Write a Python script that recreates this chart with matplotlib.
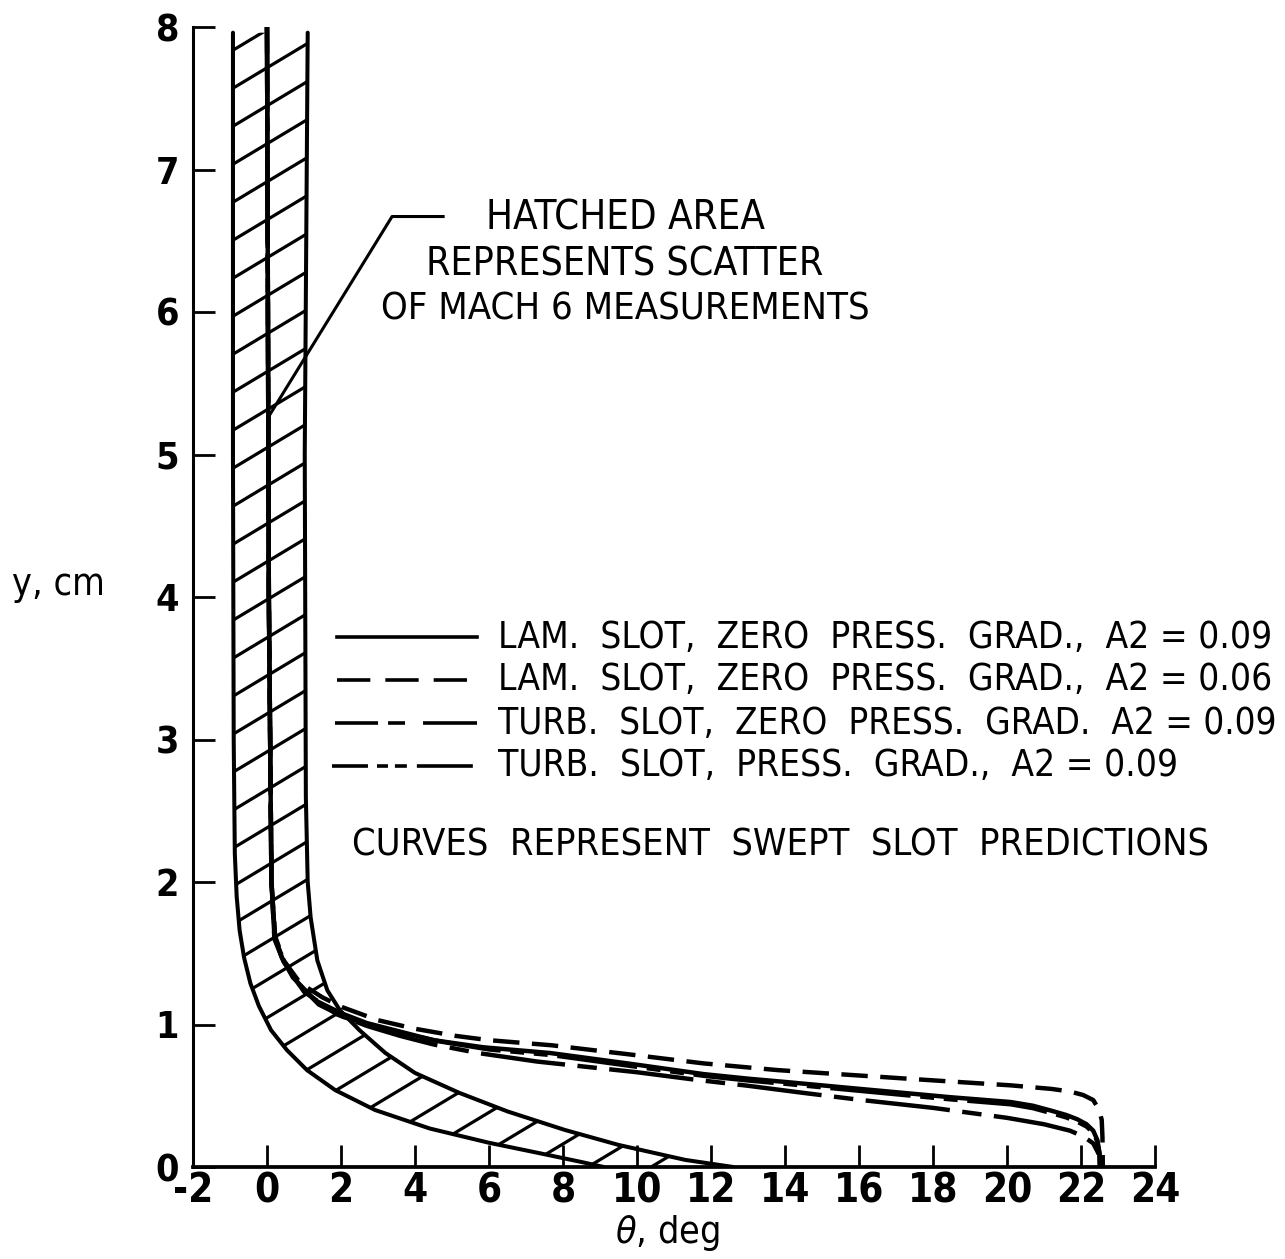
import numpy as np
import matplotlib
matplotlib.use("Agg")
import matplotlib.pyplot as plt
from matplotlib import font_manager as fm
from matplotlib.lines import Line2D
from matplotlib.patches import Polygon

# ── data ────────────────────────────────────────────────────────────────
# hatched scatter band of the Mach 6 measurements (left / right edge)
band_left_theta  = [-0.92, -0.92, -0.90, -0.87, -0.82, -0.74, -0.62, -0.45, -0.22, 0.11, 0.54, 1.08, 1.84, 2.92, 4.4, 6.0, 7.4, 8.5, 9.1]
band_left_y      = [7.96, 5.0, 3.0, 2.2, 1.9, 1.66, 1.47, 1.29, 1.13, 0.96, 0.82, 0.68, 0.54, 0.40, 0.27, 0.17, 0.095, 0.035, 0.0]
band_right_theta = [1.10, 1.02, 1.05, 1.10, 1.18, 1.36, 1.63, 1.97, 2.5, 3.2, 4.0, 5.2, 6.5, 8.05, 9.5, 11.3, 12.6]
band_right_y     = [7.96, 5.0, 2.6, 2.0, 1.75, 1.45, 1.24, 1.10, 0.96, 0.80, 0.66, 0.52, 0.39, 0.26, 0.155, 0.05, 0.0]

# swept slot predictions
theta_lam09 = [0.0, 0.05, 0.12, 0.2, 0.4, 0.7, 1.3, 2.0, 2.7, 3.6, 4.5, 5.85, 7.65, 9.8, 11.8, 13.0, 14.0, 15.95, 18.46, 20.1, 20.7, 21.2, 21.6, 21.9, 22.15, 22.33, 22.44, 22.50, 22.51]
y_lam09     = [8.0, 4.0, 2.0, 1.62, 1.47, 1.33, 1.17, 1.08, 1.01, 0.95, 0.89, 0.84, 0.80, 0.725, 0.652, 0.62, 0.597, 0.55, 0.49, 0.456, 0.43, 0.395, 0.365, 0.335, 0.30, 0.255, 0.19, 0.10, 0.0]

theta_lam06 = [0.0, 0.05, 0.12, 0.22, 0.45, 0.9, 1.5, 2.05, 3.0, 4.0, 5.1, 6.0, 7.7, 9.8, 11.8, 13.8, 15.95, 18.0, 20.1, 21.2, 21.7, 22.06, 22.33, 22.49, 22.56, 22.58, 22.59]
y_lam06     = [8.0, 4.0, 2.0, 1.62, 1.45, 1.29, 1.19, 1.12, 1.03, 0.97, 0.92, 0.89, 0.854, 0.79, 0.727, 0.68, 0.643, 0.608, 0.573, 0.548, 0.53, 0.505, 0.47, 0.40, 0.33, 0.21, 0.0]

theta_turb0 = [0.0, 0.05, 0.12, 0.2, 0.45, 1.0, 1.9, 2.7, 3.6, 4.5, 5.7, 7.3, 10.0, 11.5, 13.0, 14.5, 16.0, 18.0, 20.0, 21.0, 21.7, 22.06, 22.33, 22.47, 22.51]
y_turb0     = [8.0, 4.0, 2.0, 1.6, 1.44, 1.23, 1.07, 0.99, 0.92, 0.86, 0.80, 0.74, 0.665, 0.615, 0.57, 0.52, 0.472, 0.415, 0.345, 0.30, 0.255, 0.215, 0.166, 0.096, 0.0]

theta_turbp = [0.0, 0.05, 0.12, 0.22, 0.45, 0.8, 1.4, 2.1, 2.9, 3.8, 4.7, 6.0, 7.7, 9.8, 11.8, 13.0, 14.0, 16.0, 18.46, 20.1, 20.7, 21.2, 21.6, 21.9, 22.15, 22.33, 22.44, 22.50, 22.51]
y_turbp     = [8.0, 4.0, 2.0, 1.6, 1.45, 1.30, 1.14, 1.05, 0.99, 0.93, 0.88, 0.825, 0.785, 0.71, 0.64, 0.607, 0.584, 0.535, 0.475, 0.44, 0.413, 0.378, 0.348, 0.318, 0.284, 0.24, 0.18, 0.09, 0.0]

legend_labels = [
    "LAM.  SLOT,  ZERO  PRESS.  GRAD.,  A2 = 0.09",
    "LAM.  SLOT,  ZERO  PRESS.  GRAD.,  A2 = 0.06",
    "TURB.  SLOT,  ZERO  PRESS.  GRAD.  A2 = 0.09",
    "TURB.  SLOT,  PRESS.  GRAD.,  A2 = 0.09",
]
note_lines = ["HATCHED AREA", "REPRESENTS SCATTER", "OF MACH 6 MEASUREMENTS"]
leader_theta = [4.76, 3.38, 0.03]
leader_y     = [6.67, 6.67, 5.26]

xticks = list(range(-2, 25, 2))
yticks = list(range(0, 9))

# ── fonts: condensed face if there is one ────────────────────────────────
have = {(f.name, f.stretch) for f in fm.fontManager.ttflist}
if ("Liberation Sans Narrow", "normal") in have or ("Liberation Sans Narrow", "condensed") in have:
    FONT = dict(family="Liberation Sans Narrow")
elif ("DejaVu Sans", "condensed") in have or ("DejaVu Sans", "semi-condensed") in have:
    FONT = dict(family="DejaVu Sans", stretch="condensed")
else:
    FONT = dict(family="Liberation Sans")

plt.rcParams["font.family"] = [FONT["family"], "DejaVu Sans"]
if "stretch" in FONT:
    plt.rcParams["font.stretch"] = FONT["stretch"]
plt.rcParams["axes.unicode_minus"] = False
plt.rcParams["lines.scale_dashes"] = False
plt.rcParams["mathtext.fontset"] = "dejavusans"

W, H = 1285, 1259
fig = plt.figure(figsize=(W / 100, H / 100), dpi=100)
ax = fig.add_axes([193 / W, 1 - 1167 / H, (1155 - 193) / W, (1167 - 27) / H])
ax.set_xlim(-2, 24)
ax.set_ylim(0, 8)

for s in ["top", "right"]:
    ax.spines[s].set_visible(False)
ax.spines["left"].set_linewidth(2.2)
ax.spines["bottom"].set_linewidth(2.7)
ax.spines["left"].set_bounds(0, 8)

ax.set_xticks(xticks)
ax.set_yticks(yticks)
ax.tick_params(axis="both", direction="in", length=16, width=2.0, color="black")
ax.tick_params(axis="x", labelsize=29, pad=3)
ax.tick_params(axis="y", labelsize=27, pad=10)
for lab in ax.get_xticklabels() + ax.get_yticklabels():
    lab.set_fontweight("bold")

# ── hatched band ─────────────────────────────────────────────────────────
band_x = band_left_theta + band_right_theta[::-1]
band_y = band_left_y + band_right_y[::-1]
band = Polygon(np.column_stack([band_x, band_y]), closed=True,
               facecolor="none", edgecolor="none")
ax.add_patch(band)
ax.plot(band_left_theta, band_left_y, color="black", lw=2.9, solid_capstyle="round")
ax.plot(band_right_theta, band_right_y, color="black", lw=2.9, solid_capstyle="round")

# hatch lines at ~31 deg, ~38 px apart (vertically), clipped to the band
fig.canvas.draw()
p0, p1 = ax.transData.transform([(0, 0), (1, 1)])
px_x, px_y = p1 - p0
slope = np.tan(np.radians(31)) * px_x / px_y
step = 38 / px_y
hx = np.array([-2.0, 24.0])
c = 7.84 + slope * 0.9 + step
while c > -slope * 24 - 1:
    ln, = ax.plot(hx, c + slope * hx, color="black", lw=2.3)
    ln.set_clip_path(band)
    c -= step

# ── prediction curves ────────────────────────────────────────────────────
ax.plot(theta_turb0, y_turb0, color="black", lw=3.2, dashes=(61, 9, 14, 9))
ax.plot(theta_turbp, y_turbp, color="black", lw=3.2, dashes=(58, 7, 10, 7, 10, 7))
ax.plot(theta_lam06, y_lam06, color="black", lw=3.2, dashes=(19, 9))
ax.plot(theta_lam09, y_lam09, color="black", lw=3.2)

# leader line for the note
ax.plot(leader_theta, leader_y, color="black", lw=2.2)

# ── text ─────────────────────────────────────────────────────────────────
renderer = fig.canvas.get_renderer()

def fx(px):
    return px / W

def fy(py):
    return 1 - py / H

def fitted(x, y, s, width, size=27, cap=31, **kw):
    # shrink / grow the size so the text spans the width seen in the reference
    t = fig.text(fx(x), fy(y), s, fontsize=size, va="center", **kw)
    w = t.get_window_extent(renderer).width
    t.set_fontsize(min(cap, size * width / w))
    return t

note_widths = [280, 397, 490]
for i, (t, w) in enumerate(zip(note_lines, note_widths)):
    fitted(625, 218 + 46 * i, t, w, ha="center")

legend_widths = [775, 775, 781, 683]
legend_dashes = [None, (24, 10.8), (31, 7.2, 12.2, 13, 38.9, 72), (25.9, 6.5, 7.9, 5, 8.6, 7.2, 40.3, 72)]
legend_starts = [337, 337, 335, 332]
legend_ends = [477, 467, 477, 473]
for i, lab in enumerate(legend_labels):
    yy = fy(637 + 43 * i)
    d = legend_dashes[i]
    kw = {} if d is None else {"dashes": d}
    fig.add_artist(Line2D([fx(legend_starts[i]), fx(legend_ends[i])], [yy, yy],
                          color="black", lw=2.6, **kw))
    fitted(498, 637 + 43 * i, lab, legend_widths[i], ha="left")

fitted(781, 845, "CURVES  REPRESENT  SWEPT  SLOT  PREDICTIONS", 858, ha="center")
fitted(58, 585, "y, cm", 93, ha="center")
fitted(667, 1233, r"$\theta$, deg", 105, ha="center")

fig.savefig("out.png", dpi=100)
